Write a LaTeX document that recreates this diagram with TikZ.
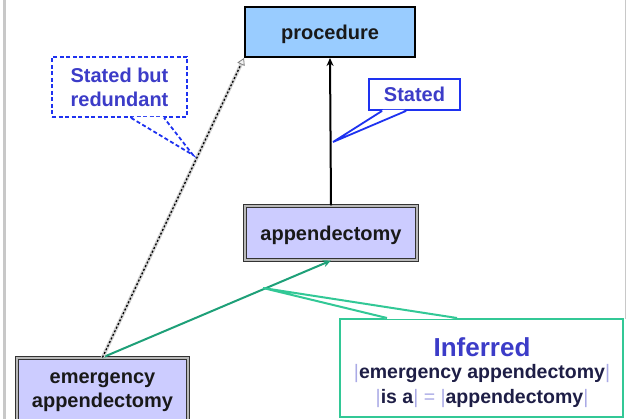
\documentclass[tikz,border=0pt]{standalone}
\usepackage{fontspec}
\setmainfont{Liberation Sans}
\usetikzlibrary{arrows.meta,calc}
\definecolor{procfill}{RGB}{153,204,255}
\definecolor{conceptfill}{RGB}{204,204,255}
\definecolor{callblue}{RGB}{30,50,240}
\definecolor{calltext}{RGB}{60,60,200}
\definecolor{tealbox}{RGB}{50,200,150}
\definecolor{greenline}{RGB}{30,160,120}
\definecolor{navytext}{RGB}{30,30,70}
\definecolor{barc}{RGB}{170,170,230}
\definecolor{edgegray}{RGB}{200,200,200}
\newcommand\vbar{{\mdseries\color{barc}|}}
\newcommand\lowered[1]{\raisebox{-2.5pt}[\height][\depth]{#1}}
\begin{document}
\begin{tikzpicture}[x=1pt,y=-1pt,
  txt/.style={font=\fontsize{20}{24}\selectfont\bfseries, align=center, text=black!90},
  procbox/.style={txt, draw=black, line width=2pt, fill=procfill, inner sep=0pt},
  concept/.style={txt, draw=black!80, line width=1.1pt, double=gray!55, double distance=1.4pt, fill=conceptfill, inner sep=0pt},
  callout/.style={txt, text=calltext, draw=callblue, line width=1.8pt, fill=white, inner sep=0pt},
  ptr/.style={callblue, line width=1.8pt},
  arr/.style={-{Stealth[length=8pt,width=7pt]}, line width=2pt}
]
\clip (0,0) rectangle (626,419);
\fill[white] (0,0) rectangle (626,419);
\draw[edgegray, line width=3pt] (4.5,0) -- (4.5,419);
\draw[edgegray, line width=1pt] (625.5,0) -- (625.5,319);

% concepts
\node[procbox, minimum width=170pt, minimum height=50pt] (proc) at (330,32) {\lowered{procedure}};
\node[concept, minimum width=172pt, minimum height=54pt] (app) at (331,233) {\lowered{appendectomy}};
\node[concept, minimum width=171pt, minimum height=68pt] (emerg) at (102.5,392) {emergency\\appendectomy};

% connectors
\draw[arr] (app.north) -- (proc.south);
\draw[arr, greenline] (emerg.north) -- (app.south);
\draw[line width=3.5pt, gray!35, -{Triangle[length=7pt,width=8pt,line width=0.8pt,fill=gray!10,color=gray]}] (emerg.north) -- (proc.south west);
\draw[black, line width=1.3pt, dash pattern=on 2pt off 2pt, shorten >=8pt] (emerg.north) -- (proc.south west);

% callout: Stated
\node[callout, minimum width=91pt, minimum height=31pt] (stated) at (414.5,94.5) {Stated};
\coordinate (statedtip) at (333,142);
\fill[white] ($(stated.south west)+(15,-1)$) -- (statedtip) -- ($(stated.south west)+(37,-1)$) -- cycle;
\draw[ptr] ($(stated.south west)+(14,0)$) -- (statedtip) -- ($(stated.south west)+(38,0)$);

% callout: Stated but redundant
\node[callout, dash pattern=on 4pt off 2.5pt, minimum width=135pt, minimum height=60pt] (redund) at (119.5,87) {Stated but\\redundant};
\coordinate (redundtip) at (193,155);
\fill[white] ($(redund.south west)+(81,-1)$) -- (redundtip) -- ($(redund.south west)+(112,-1)$) -- cycle;
\draw[ptr, dash pattern=on 4pt off 2.5pt] ($(redund.south west)+(80,0)$) -- (redundtip) -- ($(redund.south west)+(113,0)$);

% callout: Inferred
\node[draw=tealbox, line width=2pt, fill=white, inner sep=0pt, minimum width=283pt, minimum height=98pt] (inferred) at (481.5,368) {};
\coordinate (inferredtip) at (263,288);
\fill[white] ($(inferred.north west)+(49,1)$) -- (inferredtip) -- ($(inferred.north west)+(117,1)$) -- cycle;
\draw[tealbox, line width=2pt] ($(inferred.north west)+(48,0)$) -- (inferredtip) -- ($(inferred.north west)+(118,0)$);
\node[txt, text=navytext, font=\fontsize{19.5}{25}\selectfont\bfseries, inner sep=0pt] (inferredtext) at (482,373)
  {{\fontsize{26}{30}\selectfont\color{calltext}Inferred}\\[-3pt]
   \vbar emergency appendectomy\vbar\\
   \vbar is a\vbar\ {\mdseries\color{barc}=} \vbar appendectomy\vbar};
\end{tikzpicture}
\end{document}
